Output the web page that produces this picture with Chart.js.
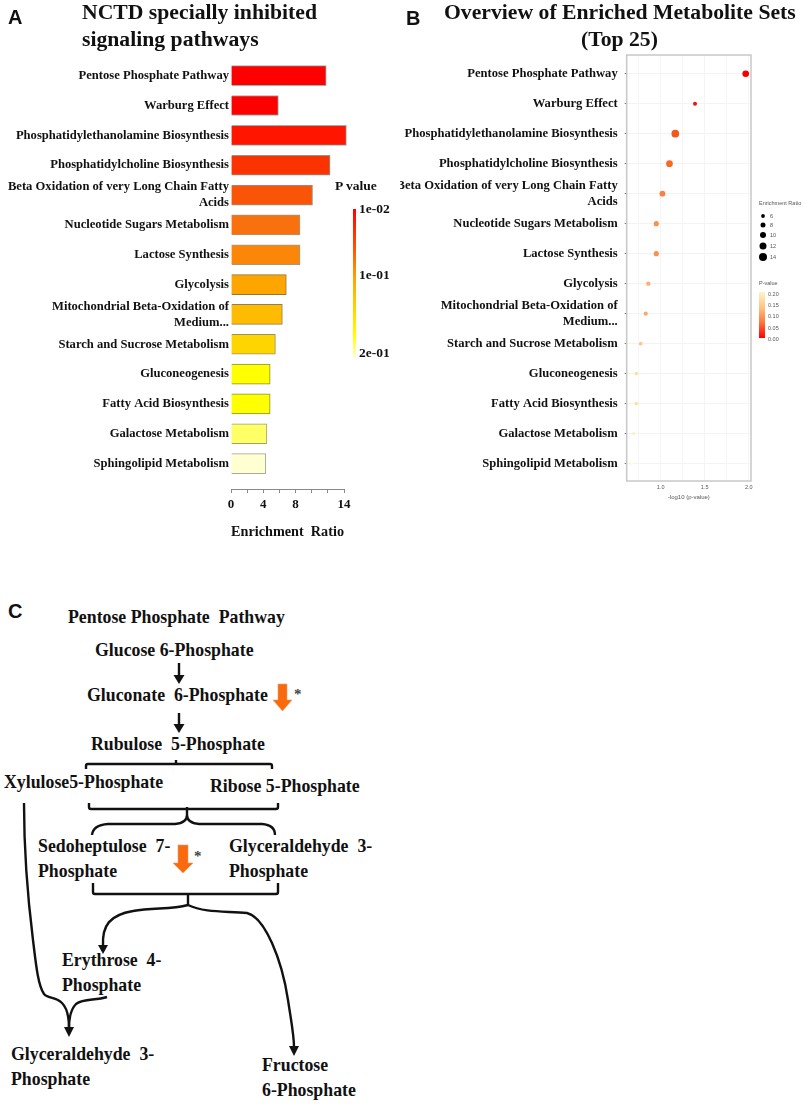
<!DOCTYPE html>
<html>
<head>
<meta charset="utf-8">
<title>NCTD metabolite sets</title>
<script src="https://cdn.jsdelivr.net/npm/chart.js@4"></script>
<style>
  html, body { margin: 0; background: #fff; }
  #page { position: relative; width: 803px; height: 1104px; overflow: hidden; }
  #page canvas, #page svg { position: absolute; }
  .t { position: absolute; transform: translateY(-50%); white-space: pre; color: #111;
       font: bold 17.8px "Liberation Serif", serif; line-height: 1; }
  .title { font-size: 21.7px; }
  .key { font-size: 13.5px; }
  .star { font-size: 15px; color: #444; }
  .panel { font: bold 20px "Liberation Sans", sans-serif; }
  .small { font: 5.5px "Liberation Sans", sans-serif; color: #555; }
  .bar { position: absolute; }
</style>
</head>
<body>
<div id="page">
  <canvas id="barChart" width="400" height="560" style="left:0;top:0"></canvas>
  <canvas id="dotChart" width="403" height="560" style="left:400px;top:0"></canvas>

  <div class="t panel" style="left:8px;top:17px">A</div>
  <div class="t panel" style="left:406px;top:18px">B</div>
  <div class="t panel" style="left:8px;top:611px">C</div>

  <div class="t title" style="left:82px;top:13px">NCTD specially inhibited</div>
  <div class="t title" style="left:82px;top:40px">signaling pathways</div>
  <div class="t title" style="left:444px;top:13px">Overview of Enriched Metabolite Sets</div>
  <div class="t title" style="left:581px;top:40px">(Top 25)</div>

  <!-- p value key, panel A -->
  <div class="t key" style="left:335px;top:186px">P value</div>
  <div class="bar" style="left:353px;top:209px;width:3px;height:149px;background:linear-gradient(#f00,#ff5a00 28%,#ffa000 45%,#ffd800 68%,#ff0 85%,#ffffd8)"></div>
  <div class="t key" style="left:359px;top:209px">1e-02</div>
  <div class="t key" style="left:359px;top:275px">1e-01</div>
  <div class="t key" style="left:359px;top:353px">2e-01</div>

  <!-- legends, panel B -->
  <div class="t small" style="left:759px;top:203px">Enrichment Ratio</div>
  <div class="t small" style="left:770px;top:216px">6</div>
  <div class="t small" style="left:770px;top:225px">8</div>
  <div class="t small" style="left:770px;top:235px">10</div>
  <div class="t small" style="left:770px;top:246px">12</div>
  <div class="t small" style="left:770px;top:257px">14</div>
  <div class="t small" style="left:759px;top:283px">P-value</div>
  <div class="bar" style="left:759px;top:292px;width:6px;height:46px;background:linear-gradient(#fff3c8,#ffc080 35%,#ff7a40 65%,#f00)"></div>
  <div class="t small" style="left:768px;top:294px">0.20</div>
  <div class="t small" style="left:768px;top:305px">0.15</div>
  <div class="t small" style="left:768px;top:316px">0.10</div>
  <div class="t small" style="left:768px;top:328px">0.05</div>
  <div class="t small" style="left:768px;top:339px">0.00</div>

  <!-- pathway, panel C -->
  <div class="t" style="left:68px;top:618px">Pentose Phosphate  Pathway</div>
  <div class="t" style="left:95px;top:651px">Glucose 6-Phosphate</div>
  <div class="t" style="left:87px;top:696px">Gluconate  6-Phosphate</div>
  <div class="t" style="left:91px;top:745px">Rubulose  5-Phosphate</div>
  <div class="t" style="left:4px;top:783px">Xylulose5-Phosphate</div>
  <div class="t" style="left:210px;top:787px">Ribose 5-Phosphate</div>
  <div class="t" style="left:38px;top:847px">Sedoheptulose  7-</div>
  <div class="t" style="left:38px;top:872px">Phosphate</div>
  <div class="t" style="left:229px;top:847px">Glyceraldehyde  3-</div>
  <div class="t" style="left:229px;top:872px">Phosphate</div>
  <div class="t" style="left:62px;top:961px">Erythrose  4-</div>
  <div class="t" style="left:62px;top:986px">Phosphate</div>
  <div class="t" style="left:11px;top:1055px">Glyceraldehyde  3-</div>
  <div class="t" style="left:11px;top:1080px">Phosphate</div>
  <div class="t" style="left:262px;top:1066px">Fructose</div>
  <div class="t" style="left:262px;top:1091px">6-Phosphate</div>
  <div class="t star" style="left:294px;top:694px">*</div>
  <div class="t star" style="left:194px;top:856px">*</div>

  <svg width="803" height="1104" style="left:0;top:0">
    <!-- key dots -->
    <g fill="#000">
      <circle cx="763" cy="216" r="1.9"/><circle cx="763" cy="225" r="2.5"/><circle cx="763" cy="235" r="3"/>
      <circle cx="763" cy="246" r="3.5"/><circle cx="763" cy="257" r="4"/>
    </g>
    <g fill="none" stroke="#111" stroke-width="2.4">
      <path d="M179 663V678M179 713V728"/>
      <path d="M86 769V766Q86 764 88 764H270Q272 764 272 766V769M176 760V764"/>
      <path d="M89 803V807Q89 809 91 809H276Q278 809 278 807V803M187 807V815Q187 823 175 824H108Q93 825 92 835M187 815Q187 823 199 824H262Q275 825 275 835"/>
      <path d="M93 883V892Q93 894 95 894H276Q278 894 278 892V883M188 894V905"/>
      <path d="M188 905C170 910 153 907 133 911C110 915 102 925 103 946"/>
      <path d="M188 905C205 913 225 911 247 913C265 917 282 960 288 1000C291 1020 294 1035 294 1047"/>
      <path d="M24 803C24 860 28 900 33 940C36 965 38 985 44 994C48 999 55 996 62 1003C68 1009 69 1018 69 1028"/>
      <path d="M107 997C95 1001 84 998 76 1004C71 1009 69 1016 69 1028"/>
    </g>
    <g fill="#111">
      <path d="M173.500 675H184.500L179 684Z"/>
      <path d="M173.500 724H184.500L179 733Z"/>
      <path d="M98 945H108L103 954Z"/>
      <path d="M289 1046H299L294 1056Z"/>
      <path d="M64 1027H74L69 1037Z"/>
    </g>
    <g fill="#f9690e" stroke="#e8a070" stroke-width="0.6">
      <path d="M278 684H287V700H292L282.500 711L273 700H278Z"/>
      <path d="M178 845H188V863H193L183 873L173 863H178Z"/>
    </g>
  </svg>
</div>

<script>
// metabolite sets, same order in both panels
const categories = [
  'Pentose Phosphate Pathway',
  'Warburg Effect',
  'Phosphatidylethanolamine Biosynthesis',
  'Phosphatidylcholine Biosynthesis',
  ['Beta Oxidation of very Long Chain Fatty', 'Acids'],
  'Nucleotide Sugars Metabolism',
  'Lactose Synthesis',
  'Glycolysis',
  ['Mitochondrial Beta-Oxidation of', 'Medium...'],
  'Starch and Sucrose Metabolism',
  'Gluconeogenesis',
  'Fatty Acid Biosynthesis',
  'Galactose Metabolism',
  'Sphingolipid Metabolism'
];
const enrichmentRatio = [11.8, 5.87, 14.3, 12.27, 10.1, 8.55, 8.55, 6.85, 6.36, 5.5, 4.85, 4.85, 4.45, 4.3];
const negLog10P = [1.966, 1.39, 1.166, 1.10, 1.02, 0.95, 0.95, 0.86, 0.83, 0.773, 0.723, 0.723, 0.693, 0.67];
const ratioTickLabels = [0, 4, 8, 14];
const pTickLabels = [1, 1.5, 2];
const pGridLines = [0.75, 1, 1.25, 1.5, 1.75, 2];

const barColors = ['#fe0000', '#fe0000', '#ff1500', '#fb3300', '#f95408', '#f9700f', '#fc8608', '#ffa500', '#ffbb00', '#ffd500', '#ffff00', '#ffff00', '#ffff66', '#ffffd2'];
const barEdges = ['#8fb5b5', '#8fb5b5', '#8fb5b5', '#8a9a90', '#8a9a90', '#a09a80', '#a09a80', '#8a7a40', '#8a8060', '#9a9060', '#8a8a40', '#8a8a40', '#a0a070', '#a8a8a0'];
const dotColors = ['#f50000', '#f01010', '#f4561c', '#f66a28', '#f98040', '#fb9050', '#fb9050', '#fcb070', '#fba868', '#fdc88c', '#ffdf9c', '#ffdf9c', '#fff0c0', '#fffbe2'];

const labelFont = { family: '"Liberation Serif", serif', weight: 'bold', size: 12.6, lineHeight: 1.28 };
const dotRadius = ratio => ratio * 0.22 + 0.7;
const rowTicks = axis => { axis.ticks = categories.map((_, i) => ({ value: i })); };

Chart.defaults.animation = false;
Chart.defaults.plugins.legend.display = false;
Chart.defaults.plugins.tooltip.enabled = false;

// panel A: enrichment ratio bars
new Chart(document.getElementById('barChart'), {
  type: 'bar',
  data: {
    datasets: [{
      data: enrichmentRatio.map((v, i) => ({ x: v, y: i })),
      backgroundColor: barColors,
      borderColor: barEdges,
      borderWidth: 1,
      barThickness: 20,
      clip: false
    }]
  },
  options: {
    indexAxis: 'y',
    responsive: false,
    layout: { padding: { top: 60, right: 56, bottom: 19, left: 0 } },
    scales: {
      y: {
        type: 'linear', reverse: true, offset: false, min: -0.526, max: 13.85,
        grid: { display: false, drawTicks: false }, border: { display: false },
        afterBuildTicks: rowTicks,
        afterFit: axis => { axis.width = 231; },
        ticks: { autoSkip: false, padding: 2, color: '#111', font: labelFont, callback: v => categories[v] }
      },
      x: {
        type: 'linear', min: 0, max: 14,
        grid: { drawOnChartArea: false, tickLength: 4, tickColor: '#888' },
        border: { color: '#888' },
        afterFit: axis => { axis.height = 52; },
        ticks: {
          stepSize: 2, autoSkip: false, maxRotation: 0, padding: 4, color: '#111',
          font: { family: '"Liberation Serif", serif', weight: 'bold', size: 13 },
          callback: v => ratioTickLabels.includes(v) ? v : ''
        },
        title: {
          display: true, text: 'Enrichment  Ratio', color: '#111', padding: 0,
          font: { family: '"Liberation Serif", serif', weight: 'bold', size: 14.6 }
        }
      }
    }
  }
});

// frame round the plot, chart.js only gives the two axis lines
const framePlugin = {
  id: 'frame',
  afterDraw(chart) {
    const { ctx, chartArea: a } = chart;
    ctx.save();
    ctx.strokeStyle = '#c8c8c8';
    ctx.lineWidth = 1.5;
    ctx.strokeRect(a.left, a.top, a.right - a.left, a.bottom - a.top);
    ctx.restore();
  }
};

// panel B: the same sets against -log10 p
new Chart(document.getElementById('dotChart'), {
  type: 'bubble',
  data: {
    datasets: [{
      data: negLog10P.map((v, i) => ({ x: v, y: i, r: dotRadius(enrichmentRatio[i]) })),
      backgroundColor: dotColors,
      borderWidth: 0,
      clip: false
    }]
  },
  options: {
    responsive: false,
    layout: { padding: { top: 55, right: 52, bottom: 59, left: 0 } },
    scales: {
      y: {
        type: 'linear', reverse: true, min: -0.623, max: 13.58,
        grid: { color: '#f3f3f3', tickColor: '#777', tickLength: 2 },
        border: { display: false },
        afterBuildTicks: rowTicks,
        afterFit: axis => { axis.width = 226.7; },
        ticks: { autoSkip: false, padding: 7, color: '#111', font: labelFont, callback: v => categories[v] }
      },
      x: {
        type: 'linear', min: 0.614, max: 2.026,
        grid: { color: '#f5f5f5', drawTicks: false },
        border: { display: false },
        afterBuildTicks: axis => { axis.ticks = pGridLines.map(v => ({ value: v })); },
        afterFit: axis => { axis.height = 20; },
        ticks: {
          autoSkip: false, maxRotation: 0, padding: 3, color: '#555',
          font: { family: '"Liberation Sans", sans-serif', size: 5.5 },
          callback: v => pTickLabels.includes(v) ? v.toFixed(1) : ''
        },
        title: {
          display: true, text: '-log10 (p-value)', color: '#555', padding: 0,
          font: { family: '"Liberation Sans", sans-serif', size: 6 }
        }
      }
    }
  },
  plugins: [framePlugin]
});
</script>
</body>
</html>
